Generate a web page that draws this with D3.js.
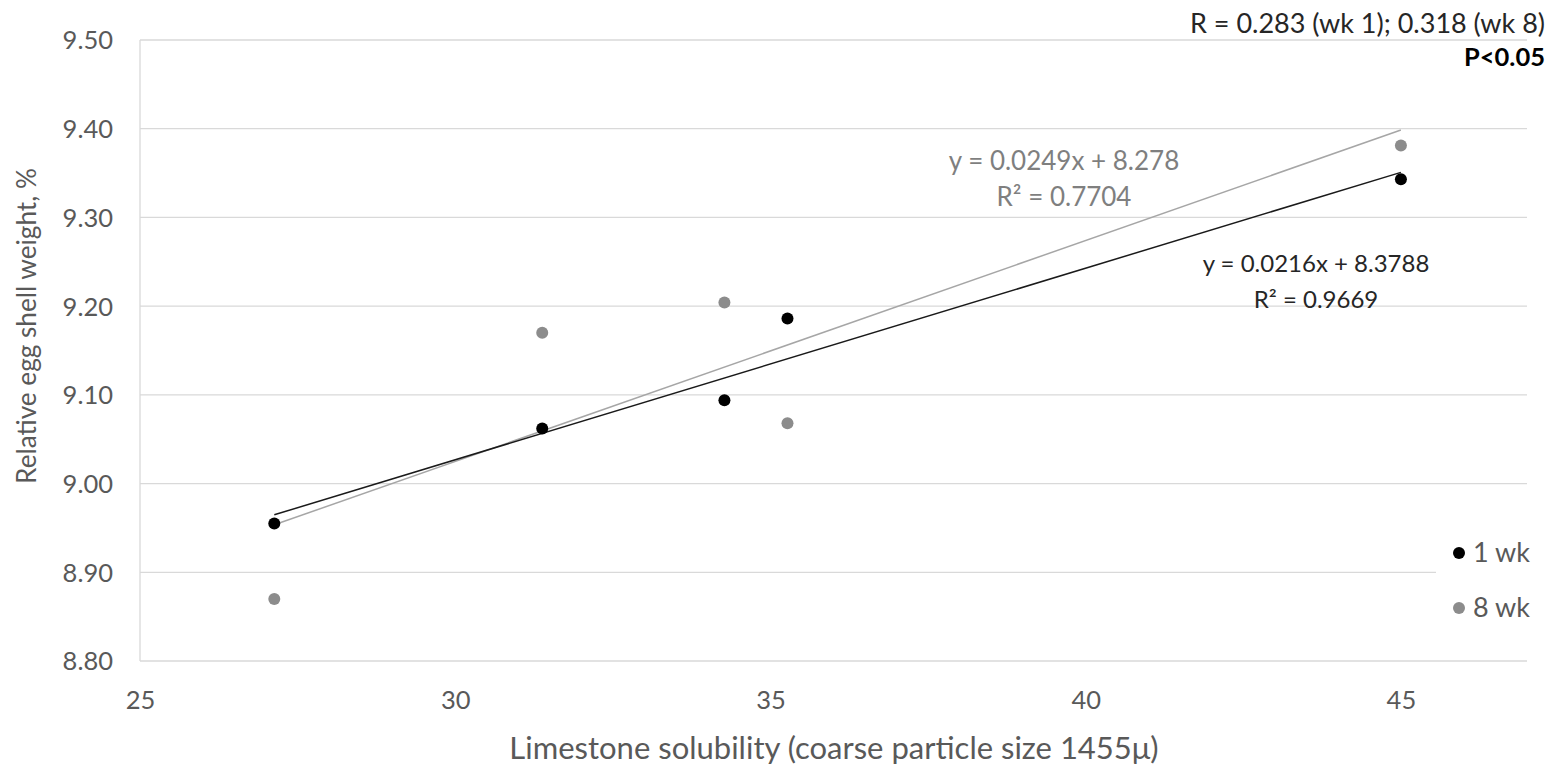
<!DOCTYPE html>
<html><head><meta charset="utf-8">
<script src="https://cdn.jsdelivr.net/npm/d3@7"></script>
<style>body{margin:0;background:#fff}svg{display:block}text{font-family:Lato,"Open Sans",sans-serif}</style>
</head><body><svg id="c" width="1557" height="767"></svg>
<script>
const xTicks=[25,30,35,40,45];
const yTicks=[8.80,8.90,9.00,9.10,9.20,9.30,9.40,9.50];
const solubility=[27.13,31.38,34.27,35.27,45.0];
const wk1=[8.955,9.062,9.094,9.186,9.343];
const wk8=[8.870,9.170,9.204,9.068,9.381];
const seriesNames=["1 wk","8 wk"];
const slopes=[0.0216,0.0249];
const intercepts=[8.3788,8.278];
const eqLabels=[["y = 0.0216x + 8.3788","R² = 0.9669"],["y = 0.0249x + 8.278","R² = 0.7704"]];
const colors=["#000000","#8c8c8c"];
const lineColors=["#1a1a1a","#a6a6a6"];

const svg=d3.select("#c");
const L=140,R=1527,T=40,B=661;
const x=d3.scaleLinear().domain([25,47]).range([L,R]);
const y=d3.scaleLinear().domain([8.8,9.5]).range([B,T]);

// gridlines
svg.append("g").selectAll("line").data(yTicks).join("line")
 .attr("x1",L).attr("x2",R).attr("y1",d=>y(d)).attr("y2",d=>y(d))
 .attr("stroke","#d9d9d9").attr("stroke-width",1.3);
svg.append("line").attr("x1",L).attr("x2",L).attr("y1",T).attr("y2",B).attr("stroke","#d9d9d9").attr("stroke-width",1.3);

// legend background
svg.append("rect").attr("x",1436).attr("y",530).attr("width",121).attr("height",100).attr("fill","#fff");

// axes labels
const yAxis=d3.axisLeft(y).tickValues(yTicks).tickFormat(d3.format(".2f")).tickSize(0).tickPadding(0);
const gy=svg.append("g").attr("transform",`translate(${L-27},0)`).call(yAxis);
gy.select(".domain").remove();
gy.selectAll("text").attr("font-size",25.5).attr("font-family","Lato").attr("fill","#595959").attr("dy","0.35em");
const xAxis=d3.axisBottom(x).tickValues(xTicks).tickSize(0).tickPadding(0);
const gx=svg.append("g").attr("transform",`translate(0,${B+30})`).call(xAxis);
gx.select(".domain").remove();
gx.selectAll("text").attr("font-size",25.5).attr("font-family","Lato").attr("fill","#595959").attr("dy","0.71em");

svg.append("text").attr("x",834).attr("y",759).attr("text-anchor","middle")
 .attr("font-size",31).attr("fill","#595959").text("Limestone solubility (coarse particle size 1455μ)");
svg.append("text").attr("transform","translate(36,326) rotate(-90)").attr("text-anchor","middle")
 .attr("font-size",26.2).attr("fill","#595959").text("Relative egg shell weight, %");

// trendlines
const xmin=d3.min(solubility),xmax=d3.max(solubility);
[1,0].forEach(i=>{
  svg.append("line").attr("x1",x(xmin)).attr("x2",x(xmax))
   .attr("y1",y(slopes[i]*xmin+intercepts[i])).attr("y2",y(slopes[i]*xmax+intercepts[i]))
   .attr("stroke",lineColors[i]).attr("stroke-width",1.5);
});

// points
[wk8,wk1].forEach((s,k)=>{
  const i=k===0?1:0;
  svg.append("g").selectAll("circle").data(s).join("circle")
   .attr("cx",(d,j)=>x(solubility[j])).attr("cy",d=>y(d)).attr("r",6).attr("fill",colors[i]);
});

// equation labels
const eqPos=[[1316,272],[1064,170]];
const eqSize=[24,26];
const eqCol=["#262626","#7f7f7f"];
eqLabels.forEach((lines,i)=>{
  lines.forEach((t,j)=>{
    svg.append("text").attr("x",eqPos[i][0]).attr("y",eqPos[i][1]+j*36).attr("text-anchor","middle")
     .attr("font-size",eqSize[i]).attr("fill",eqCol[i]).text(t);
  });
});

// legend
seriesNames.forEach((n,i)=>{
  const cy=553+i*55;
  svg.append("circle").attr("cx",1459).attr("cy",cy).attr("r",6).attr("fill",colors[i]);
  svg.append("text").attr("x",1473).attr("y",cy).attr("dy","0.35em").attr("font-size",27).attr("fill","#595959").text(n);
});

// annotations
svg.append("text").attr("x",1545).attr("y",33).attr("text-anchor","end").attr("font-size",27).attr("fill","#262626").text("R = 0.283 (wk 1); 0.318 (wk 8)");
svg.append("text").attr("x",1545).attr("y",66).attr("text-anchor","end").attr("font-size",25.5).attr("font-weight","bold").attr("fill","#000").text("P<0.05");
</script></body></html>
